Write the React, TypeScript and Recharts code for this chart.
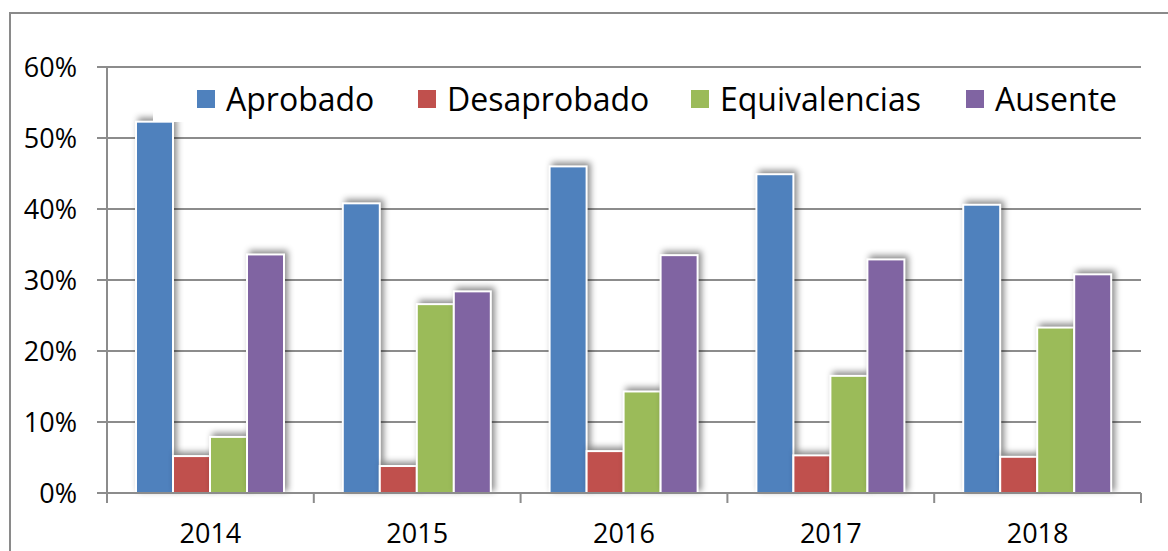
import { BarChart, Bar, XAxis, YAxis, CartesianGrid, Legend } from 'recharts';

// ---- data ----
const YEARS = ['2014', '2015', '2016', '2017', '2018'];
const APROBADO = [52.3, 40.8, 46.0, 44.9, 40.6];
const DESAPROBADO = [5.2, 3.8, 5.9, 5.3, 5.1];
const EQUIVALENCIAS = [7.9, 26.6, 14.3, 16.5, 23.3];
const AUSENTE = [33.6, 28.4, 33.5, 32.9, 30.8];
const Y_TICKS = [0, 10, 20, 30, 40, 50, 60];

const SERIES = [
  { key: 'Aprobado', color: '#4F81BD' },
  { key: 'Desaprobado', color: '#C0504D' },
  { key: 'Equivalencias', color: '#9BBB59' },
  { key: 'Ausente', color: '#8064A2' },
];

const data = YEARS.map((year, i) => ({
  year,
  Aprobado: APROBADO[i],
  Desaprobado: DESAPROBADO[i],
  Equivalencias: EQUIVALENCIAS[i],
  Ausente: AUSENTE[i],
}));

const W = 1168;
const H = 551;
const M = { top: 67, right: 27, left: 0, bottom: 0 };
const Y_W = 107;
const BAND = (W - Y_W - M.right) / YEARS.length;
const AXIS = '#8c8c8c';
const FONT = '"Open Sans", sans-serif';
// legend slot widths (square + label + gap), matched to the original layout
const LEGEND_SLOTS = [221, 273, 275, 160];

// bar with white outline and soft Excel-like shadow
function ShadowBar(props: any) {
  const { x, y, width, height, fill } = props;
  if (width == null || height == null) return null;
  return (
    <rect x={x} y={y} width={width} height={height} fill={fill}
      stroke="#fff" strokeWidth={2}
      style={{ filter: 'drop-shadow(3px -3px 3px rgba(0,0,0,0.45))' }} />
  );
}

// category label plus boundary tick marks
function YearTick(props: any) {
  const { x, y, payload, index } = props;
  const left = x - BAND / 2;
  const top = y - 8; // tick y sits below the axis line
  return (
    <g>
      <line x1={left} x2={left} y1={top} y2={top + 10} stroke={AXIS} strokeWidth={2} />
      {index === YEARS.length - 1 && (
        <line x1={x + BAND / 2} x2={x + BAND / 2} y1={top} y2={top + 10} stroke={AXIS} strokeWidth={2} />
      )}
      <text x={x} y={y + 35} textAnchor="middle" dominantBaseline="middle"
        fontSize={27} fill="#000" fontFamily={FONT}>{payload.value}</text>
    </g>
  );
}

function LegendBox() {
  return (
    <div style={{ display: 'flex', alignItems: 'center', background: '#fff', height: 47,
      paddingLeft: 44, fontFamily: FONT, fontSize: 32, color: '#000' }}>
      {SERIES.map((s, i) => (
        <div key={s.key} style={{ display: 'flex', alignItems: 'center', width: LEGEND_SLOTS[i], flexShrink: 0 }}>
          <span style={{ width: 18, height: 18, background: s.color, marginRight: 11, display: 'inline-block' }} />
          <span style={{ lineHeight: 1, whiteSpace: 'nowrap' }}>{s.key}</span>
        </div>
      ))}
    </div>
  );
}

export default function App() {
  return (
    <div style={{ position: 'absolute', left: 0, top: 0, width: W, height: H, background: '#fff', overflow: 'hidden' }}>
      <div style={{ position: 'absolute', left: 9, top: 12, width: 1300, height: 700, border: '2px solid #8a8a8a' }} />
      <div style={{ position: 'absolute', left: 0, top: 0 }}>
        <BarChart width={W} height={H} data={data} margin={M} barGap={0} barCategoryGap={29}>
          <CartesianGrid vertical={false} stroke={AXIS} strokeWidth={2} />
          <XAxis dataKey="year" height={58} axisLine={{ stroke: AXIS, strokeWidth: 2 }}
            tickLine={false} tick={<YearTick />} interval={0} />
          <YAxis width={Y_W} domain={[0, 60]} ticks={Y_TICKS} interval={0}
            tickFormatter={v => `${v}%`} axisLine={{ stroke: AXIS, strokeWidth: 2 }}
            tickLine={{ stroke: AXIS, strokeWidth: 2 }} tickSize={10} tickMargin={20}
            tick={{ fill: '#000', fontSize: 27, fontFamily: FONT }} />
          <Legend verticalAlign="middle" align="center" content={<LegendBox />}
            wrapperStyle={{ position: 'absolute', top: 75, left: 153, width: 985, height: 47 }} />
          {SERIES.map(s => (
            <Bar key={s.key} dataKey={s.key} fill={s.color} shape={<ShadowBar />} isAnimationActive={false} />
          ))}
        </BarChart>
      </div>
    </div>
  );
}
